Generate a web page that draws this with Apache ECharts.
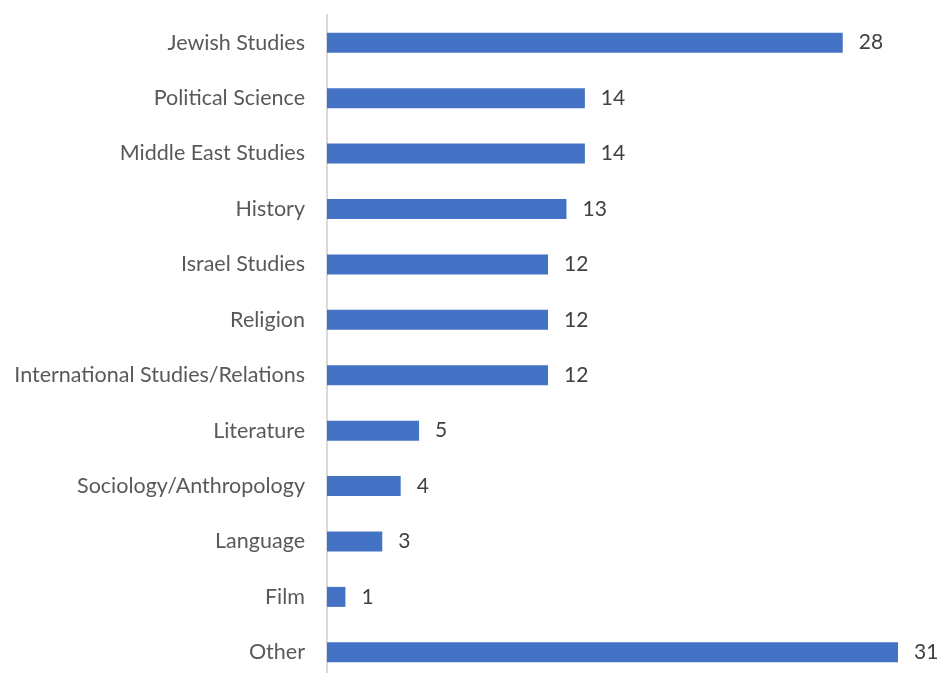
<!DOCTYPE html>
<html>
<head>
<meta charset="utf-8">
<style>
  html, body { margin: 0; padding: 0; background: #fff; overflow: hidden; }
  /* the plot runs slightly past the bottom of the window */
  #chart { width: 939px; height: 680px; }
</style>
<script src="https://cdn.jsdelivr.net/npm/echarts@6/dist/echarts.min.js"></script>
</head>
<body>
<div id="chart"></div>
<script>
// Fields of study, top to bottom
const fields = [
  'Jewish Studies',
  'Political Science',
  'Middle East Studies',
  'History',
  'Israel Studies',
  'Religion',
  'International Studies/Relations',
  'Literature',
  'Sociology/Anthropology',
  'Language',
  'Film',
  'Other'
];
// Count per field
const counts = [28, 14, 14, 13, 12, 12, 12, 5, 4, 3, 1, 31];

const chart = echarts.init(document.getElementById('chart'));
chart.setOption({
  animation: false,
  textStyle: { fontFamily: 'Lato, "Open Sans", sans-serif' },
  grid: { left: 327, right: 41, top: 15, bottom: 0, containLabel: false },
  xAxis: {
    type: 'value',
    min: 0,
    max: 31,
    show: false
  },
  yAxis: {
    type: 'category',
    inverse: true,
    data: fields,
    axisLine: { show: true, lineStyle: { color: '#d9d9d9', width: 2 } },
    axisTick: { show: false },
    axisLabel: { color: '#595959', fontSize: 21.5, margin: 22 }
  },
  series: [{
    type: 'bar',
    data: counts,
    barWidth: 20,
    itemStyle: { color: '#4472c4' },
    label: {
      show: true,
      position: 'right',
      distance: 16,
      color: '#404040',
      fontSize: 21
    }
  }]
});
</script>
</body>
</html>
